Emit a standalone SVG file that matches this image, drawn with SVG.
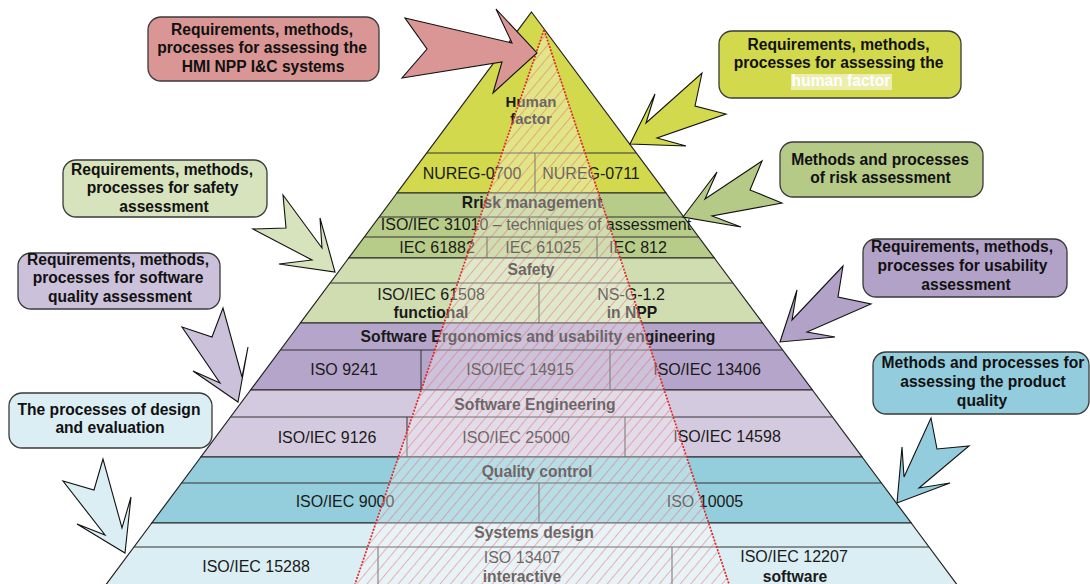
<svg xmlns="http://www.w3.org/2000/svg" width="1090" height="584" viewBox="0 0 1090 584">
<defs>
<style>
.t{font-family:"Liberation Sans",Arial,sans-serif;font-size:16px;fill:#1a1a1a;text-anchor:middle}
.b{font-family:"Liberation Sans",Arial,sans-serif;font-size:15.7px;font-weight:bold;fill:#1a1a1a;text-anchor:middle}
.c{font-family:"Liberation Sans",Arial,sans-serif;font-size:15.6px;font-weight:bold;fill:#111;text-anchor:middle}
.band{stroke:#222;stroke-width:1.2}
.ln{stroke:#333;stroke-width:1;fill:none}
.box{stroke:#3a3a3a;stroke-width:1.3}
.arr{stroke:#111;stroke-width:1.1;stroke-linejoin:miter}
.edge{stroke:#e02a2a;stroke-width:1.7;stroke-dasharray:2 1.4;fill:none}
</style>
<pattern id="hatch" width="8" height="8" patternUnits="userSpaceOnUse" patternTransform="rotate(40)">
<line x1="0" y1="0" x2="0" y2="8" stroke="#e25a5a" stroke-width="1.1" stroke-opacity="0.8"/>
</pattern>
</defs>
<rect width="1090" height="584" fill="#ffffff"/>

<g id="layer-human-factor">
<polygon class="band" points="531.5,12 666,193 397,193" fill="#d2d94c"/>
<line class="ln" x1="426.7" y1="153" x2="636.3" y2="153"/>
<line class="ln" x1="535" y1="153" x2="535" y2="193"/>
<text class="b" x="531" y="107" style="font-size:15px">Human</text>
<text class="b" x="531" y="124" style="font-size:15px">factor</text>
<text class="t" x="472" y="179">NUREG-0700</text>
<text class="t" x="591" y="179">NUREG-0711</text>
</g>

<g id="layer-risk-management">
<polygon class="band" points="397,193 666,193 714.3,258 348.7,258" fill="#b8cc8a"/>
<line class="ln" x1="379.2" y1="217" x2="683.8" y2="217"/>
<line class="ln" x1="364.3" y1="237" x2="698.7" y2="237"/>
<line class="ln" x1="487" y1="237" x2="487" y2="258"/>
<line class="ln" x1="597" y1="237" x2="597" y2="258"/>
<text class="b" x="532" y="208">Rrisk management</text>
<text class="t" x="536" y="230">ISO/IEC 31010 – techniques of assessment</text>
<text class="t" x="437" y="253">IEC 61882</text>
<text class="t" x="543" y="253">IEC 61025</text>
<text class="t" x="638" y="253">IEC 812</text>
</g>

<g id="layer-safety">
<polygon class="band" points="348.7,258 714.3,258 762.6,323 300.4,323" fill="#d0ddb0"/>
<line class="ln" x1="330.1" y1="283" x2="732.9" y2="283"/>
<line class="ln" x1="539" y1="283" x2="539" y2="323"/>
<text class="b" x="531" y="275">Safety</text>
<text class="t" x="431" y="300">ISO/IEC 61508</text>
<text class="b" x="431" y="318">functional</text>
<text class="t" x="631" y="300">NS-G-1.2</text>
<text class="b" x="632" y="318">in NPP</text>
</g>

<g id="layer-software-ergonomics">
<polygon class="band" points="300.4,323 762.6,323 812.4,390 250.6,390" fill="#b5a5ca"/>
<line class="ln" x1="280.4" y1="350" x2="782.6" y2="350"/>
<line class="ln" x1="421" y1="350" x2="421" y2="390"/>
<line class="ln" x1="610" y1="350" x2="610" y2="390"/>
<text class="b" x="538" y="342">Software Ergonomics and usability engineering</text>
<text class="t" x="344" y="375">ISO 9241</text>
<text class="t" x="520" y="375">ISO/IEC 14915</text>
<text class="t" x="707" y="375">ISO/IEC 13406</text>
</g>

<g id="layer-software-engineering">
<polygon class="band" points="250.6,390 812.4,390 862.1,457 200.9,457" fill="#d4cadf"/>
<line class="ln" x1="230.6" y1="417" x2="832.4" y2="417"/>
<line class="ln" x1="407" y1="417" x2="407" y2="457"/>
<line class="ln" x1="625" y1="417" x2="625" y2="457"/>
<text class="b" x="535" y="410">Software Engineering</text>
<text class="t" x="327" y="443">ISO/IEC 9126</text>
<text class="t" x="516" y="443">ISO/IEC 25000</text>
<text class="t" x="727" y="442">ISO/IEC 14598</text>
</g>

<g id="layer-quality-control">
<polygon class="band" points="200.9,457 862.1,457 911.2,523 151.8,523" fill="#94cedc"/>
<line class="ln" x1="181.5" y1="483" x2="881.5" y2="483"/>
<line class="ln" x1="539" y1="483" x2="539" y2="523"/>
<text class="b" x="537" y="477">Quality control</text>
<text class="t" x="345" y="507">ISO/IEC 9000</text>
<text class="t" x="705" y="507">ISO 10005</text>
</g>

<g id="layer-systems-design">
<polygon class="band" points="151.8,523 911.2,523 961,590 102,590" fill="#dbeef3"/>
<line class="ln" x1="134" y1="547" x2="929" y2="547"/>
<line class="ln" x1="378" y1="547" x2="378" y2="590"/>
<line class="ln" x1="672" y1="547" x2="672" y2="590"/>
<text class="b" x="534" y="538">Systems design</text>
<text class="t" x="256" y="572">ISO/IEC 15288</text>
<text class="t" x="522" y="563">ISO 13407</text>
<text class="b" x="522" y="582">interactive</text>
<text class="t" x="794" y="562">ISO/IEC 12207</text>
<text class="b" x="795" y="582">software</text>
</g>

<g id="hmi-overlay">
<polygon points="544,30 731,590 353,590" fill="#ffffff" fill-opacity="0.33"/>
<polygon points="544,30 731,590 353,590" fill="url(#hatch)"/>
<line class="edge" x1="544" y1="30" x2="353" y2="590"/>
<line class="edge" x1="544" y1="30" x2="731" y2="590"/>
</g>

<g id="callout-hmi">
<rect class="box" x="148" y="17" width="231" height="64" rx="13" fill="#d99694"/>
<text class="c" x="262" y="35">Requirements, methods,</text>
<text class="c" x="262" y="53.3">processes for assessing the</text>
<text class="c" x="263" y="71.7">HMI NPP I&amp;C systems</text>
</g>

<g id="callout-human-factor">
<rect class="box" x="719" y="31" width="242" height="67" rx="13" fill="#d2d94c"/>
<text class="c" x="838.5" y="50">Requirements, methods,</text>
<text class="c" x="838.5" y="68.3">processes for assessing the</text>
<rect x="791" y="74" width="101" height="16" fill="#ffffff" fill-opacity="0.55"/>
<text class="c" x="841" y="86" style="fill:#ffffff">human factor</text>
</g>

<g id="callout-risk">
<rect class="box" x="780" y="142" width="203" height="55" rx="13" fill="#b6ca87"/>
<text class="c" x="880" y="165">Methods and processes</text>
<text class="c" x="880.5" y="183.3">of risk assessment</text>
</g>

<g id="callout-safety">
<rect class="box" x="63" y="160" width="204" height="57" rx="13" fill="#d6e3bc"/>
<text class="c" x="162" y="175">Requirements, methods,</text>
<text class="c" x="162.5" y="193.3">processes for safety</text>
<text class="c" x="164" y="211.7">assessment</text>
</g>

<g id="callout-software-quality">
<rect class="box" x="18" y="253" width="202" height="56" rx="13" fill="#ccc1da"/>
<text class="c" x="118" y="265">Requirements, methods,</text>
<text class="c" x="118" y="283.3">processes for software</text>
<text class="c" x="120" y="301.7">quality assessment</text>
</g>

<g id="callout-usability">
<rect class="box" x="863" y="239" width="204" height="58" rx="13" fill="#b3a2c7"/>
<text class="c" x="962" y="252.3">Requirements, methods,</text>
<text class="c" x="962.5" y="270.7">processes for usability</text>
<text class="c" x="966" y="290">assessment</text>
</g>

<g id="callout-product-quality">
<rect class="box" x="873" y="352" width="216" height="62" rx="13" fill="#93cddd"/>
<text class="c" x="983" y="368.3">Methods and processes for</text>
<text class="c" x="983" y="386.7">assessing the product</text>
<text class="c" x="982" y="405.5">quality</text>
</g>

<g id="callout-design">
<rect class="box" x="9" y="393" width="203" height="55" rx="13" fill="#dbeef3"/>
<text class="c" x="109" y="415">The processes of design</text>
<text class="c" x="110" y="433.3">and evaluation</text>
</g>

<g id="connectors">
<polygon class="arr" fill="#d99694" points="405,18 512,43 496,9 537,53 493,93 502,62 402,78 427,49"/>
<polygon class="arr" fill="#d2d94c" points="702,73 695,106 726,114 657,138 686,146 630,144 655,94 646,123"/>
<polygon class="arr" fill="#b6ca87" points="762,161 750,190 782,203 712,216 741,227 683,217 717,172 705,199"/>
<polygon class="arr" fill="#d6e3bc" points="283,195 322,248 320,218 335,272 279,264 312,260 253,229 286,228"/>
<polygon class="arr" fill="#ccc1da" points="223,308 212,337 182,327 220,383 193,371 238,402 248,347 242,377"/>
<polygon class="arr" fill="#b3a2c7" points="843,266 838,297 871,304 807,332 835,337 780,342 797,290 792,320"/>
<polygon class="arr" fill="#93cddd" points="931,418 937,449 969,446 919,488 950,483 897,503 902,447 904,477"/>
<polygon class="arr" fill="#dbeef3" points="103,459 94,490 63,481 105,535 77,524 125,553 131,497 122,528"/>
</g>
</svg>
